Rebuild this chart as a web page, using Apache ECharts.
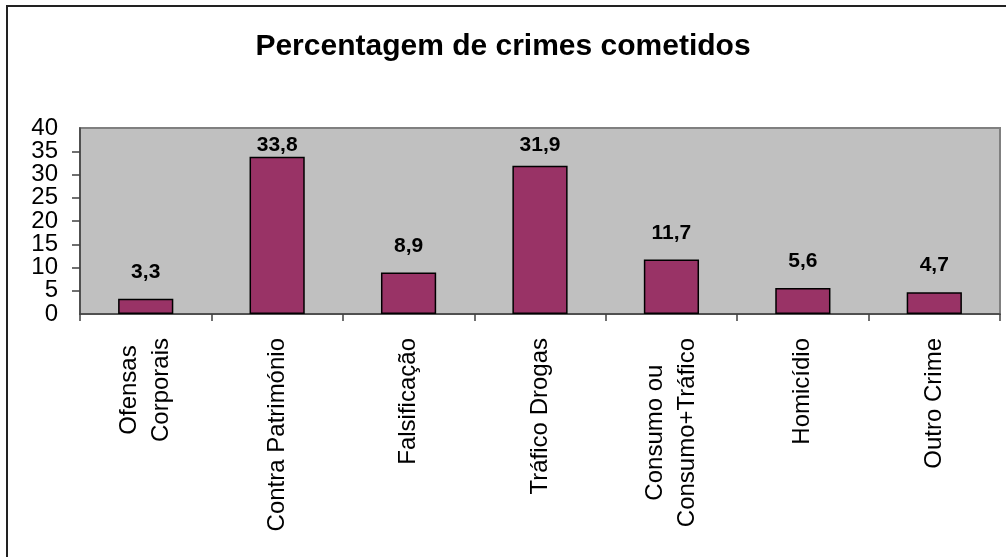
<!DOCTYPE html>
<html>
<head>
<meta charset="utf-8">
<script src="https://cdn.jsdelivr.net/npm/echarts@6/dist/echarts.min.js"></script>
<style>
  html, body { margin: 0; padding: 0; background: #fff; }
  #chart { width: 1006px; height: 557px; }
</style>
</head>
<body>
<div id="chart"></div>
<script>
const TITLE = 'Percentagem de crimes cometidos'
const categories = ['Ofensas\nCorporais', 'Contra Património', 'Falsificação', 'Tráfico Drogas',
  'Consumo ou\nConsumo+Tráfico', 'Homicídio', 'Outro Crime']
const values = [3.3, 33.8, 8.9, 31.9, 11.7, 5.6, 4.7]
const yTicks = [0, 5, 10, 15, 20, 25, 30, 35, 40]

const FONT = '"Liberation Sans", Arial, sans-serif'
const GRID = { left: 80, right: 6, top: 128, bottom: 243 }
const Y_MIN = yTicks[0]
const Y_MAX = yTicks[yTicks.length - 1]
const LABEL_SIZE = 21
const LABEL_GAP = 16

// labels that would poke above the plot area get pushed down onto the bar (like Excel does)
const plotH = 557 - GRID.top - GRID.bottom
const barData = values.map(v => {
  const barTop = GRID.top + plotH * (1 - v / Y_MAX)
  const room = barTop - GRID.top - LABEL_SIZE - 7
  return room < LABEL_GAP ? { value: v, label: { distance: Math.max(1, room) } } : v
})

const yLabel = { margin: 22, color: '#000', fontSize: 24, fontFamily: FONT }

const chart = echarts.init(document.getElementById('chart'))
chart.setOption({
  animation: false,
  textStyle: { fontFamily: FONT },
  title: {
    text: TITLE, left: 'center', top: 27,
    textStyle: { fontSize: 30, fontWeight: 'bold', color: '#000', fontFamily: FONT }
  },
  graphic: [{
    type: 'rect', silent: true, z: -1,
    shape: { x: 7, y: 6, width: 1200, height: 800 },
    style: { fill: 'none', stroke: '#222', lineWidth: 2 }
  }],
  grid: {
    ...GRID, show: true, backgroundColor: '#C0C0C0',
    borderColor: '#808080', borderWidth: 2
  },
  xAxis: {
    type: 'category', data: categories,
    axisLine: { lineStyle: { color: '#404040', width: 1.5 } },
    axisTick: { show: true, length: 7, lineStyle: { color: '#404040', width: 1.5 } },
    axisLabel: {
      interval: 0, rotate: 90, margin: 24, color: '#000',
      fontSize: 24, fontFamily: FONT,
      formatter: name => name.split('\n').map(l => '{c|' + l + '}').join('\n'),
      rich: { c: { align: 'center', fontSize: 24, lineHeight: 32, fontFamily: FONT, color: '#000' } }
    }
  },
  yAxis: [{
    // main axis: line, ticks and the inner labels (the tight labels would make echarts drop 0/40)
    type: 'value', min: Y_MIN, max: Y_MAX, interval: 5,
    axisLine: { show: true, lineStyle: { color: '#404040', width: 1.5 } },
    axisTick: { show: true, length: 8, lineStyle: { color: '#404040', width: 1.5 } },
    splitLine: { show: false },
    axisLabel: { ...yLabel, showMinLabel: false, showMaxLabel: false }
  }, {
    // second axis on the same scale, just for the end labels 0 and 40
    type: 'value', position: 'left', min: Y_MIN, max: Y_MAX, interval: Y_MAX - Y_MIN,
    axisLine: { show: false }, axisTick: { show: false }, splitLine: { show: false },
    axisLabel: { ...yLabel, showMinLabel: true, showMaxLabel: true }
  }],
  series: [{
    type: 'bar', data: barData, barWidth: '42%', yAxisIndex: 0,
    itemStyle: { color: '#993366', borderColor: '#000', borderWidth: 1.5 },
    label: {
      show: true, position: 'top', distance: LABEL_GAP,
      fontSize: LABEL_SIZE, fontWeight: 'bold', color: '#000', fontFamily: FONT,
      formatter: p => String(p.value).replace('.', ',')
    }
  }]
})
</script>
</body>
</html>
